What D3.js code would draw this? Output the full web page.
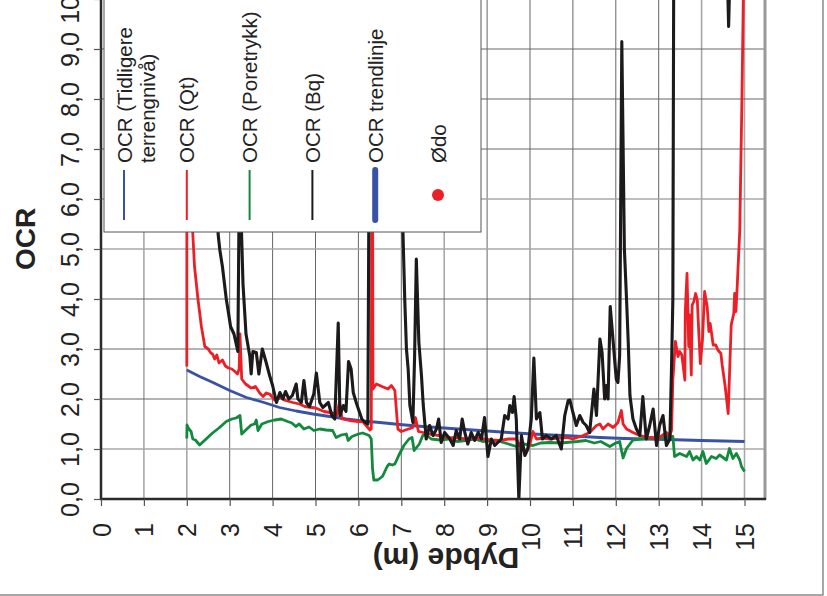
<!DOCTYPE html>
<html>
<head>
<meta charset="utf-8">
<script src="https://cdn.jsdelivr.net/npm/d3@7"></script>
<style>
  body { margin: 0; background: #fff; }
  text { font-family: "Liberation Sans", Arial, sans-serif; fill: #222; }
</style>
</head>
<body>
<script>

// depth (m) and OCR pairs
const blueSeries = [[2.0,2.58],[2.3,2.45],[2.61,2.33],[3.0,2.17],[3.39,2.03],[3.8,1.93],[4.16,1.83],[4.55,1.76],[4.94,1.7],[5.33,1.65],[5.72,1.6],[6.1,1.56],[6.5,1.53],[6.96,1.49],[7.5,1.45],[8.0,1.42],[8.5,1.39],[9.0,1.36],[9.5,1.33],[10.07,1.3],[10.5,1.28],[11.0,1.26],[11.63,1.23],[12.2,1.21],[12.7,1.2],[13.18,1.19],[13.6,1.18],[14.0,1.17],[14.5,1.16],[15.0,1.15]];

const qtSeries = [[2.0,2.65],[2.005,11],[2.1,8],[2.14,5.3],[2.18,4.65],[2.26,4.0],[2.34,3.45],[2.42,3.05],[2.5,3.0],[2.56,2.92],[2.6,2.9],[2.65,2.8],[2.7,2.88],[2.75,2.72],[2.83,2.78],[2.9,2.66],[2.97,2.62],[3.05,2.6],[3.12,2.55],[3.18,2.5],[3.22,2.6],[3.24,3.3],[3.28,2.4],[3.37,2.3],[3.45,2.25],[3.5,2.22],[3.6,2.25],[3.7,2.12],[3.78,2.05],[3.85,2.12],[3.93,2.1],[4.05,1.98],[4.2,2.03],[4.3,1.97],[4.47,1.93],[4.63,1.9],[4.75,1.85],[5.0,1.82],[5.2,1.75],[5.4,1.72],[5.5,1.68],[5.56,1.95],[5.62,1.6],[5.8,1.57],[6.0,1.55],[6.1,1.55],[6.2,1.45],[6.27,1.38],[6.3,1.4],[6.32,11],[6.34,2.2],[6.42,2.3],[6.55,2.25],[6.69,2.2],[6.77,2.27],[6.85,2.17],[6.92,1.4],[7.0,1.35],[7.1,1.38],[7.27,1.43],[7.33,1.63],[7.4,1.35],[7.51,1.33],[7.66,1.3],[7.8,1.28],[8.0,1.25],[8.13,1.23],[8.3,1.22],[8.52,1.2],[8.7,1.22],[8.9,1.2],[9.1,1.18],[9.29,1.17],[9.5,1.2],[9.68,1.2],[9.76,1.07],[9.88,0.93],[9.99,1.07],[10.07,1.35],[10.15,1.2],[10.3,1.22],[10.46,1.2],[10.65,1.22],[10.85,1.23],[11.0,1.2],[11.24,1.27],[11.39,1.33],[11.55,1.47],[11.63,1.5],[11.7,1.4],[11.82,1.5],[11.94,1.43],[12.05,1.53],[12.13,1.77],[12.17,1.5],[12.25,1.4],[12.4,1.33],[12.56,1.27],[12.79,1.23],[13.0,1.22],[13.18,1.33],[13.26,1.27],[13.3,1.38],[13.33,2.38],[13.39,3.15],[13.45,2.85],[13.49,2.95],[13.54,2.88],[13.61,2.38],[13.62,3.75],[13.66,4.51],[13.7,3.05],[13.72,3.68],[13.76,2.48],[13.78,3.88],[13.82,3.95],[13.86,4.11],[13.9,3.98],[13.93,3.41],[13.97,2.71],[14.02,3.18],[14.07,4.15],[14.13,3.85],[14.17,3.35],[14.2,3.51],[14.27,3.08],[14.33,3.08],[14.38,2.98],[14.45,2.91],[14.48,2.68],[14.55,2.25],[14.62,1.71],[14.69,3.48],[14.75,3.71],[14.77,4.11],[14.8,3.75],[14.83,4.25],[14.89,5.38],[14.94,8.0],[14.98,10.5]];

const poreSeries = [[2.0,1.21],[2.005,1.48],[2.05,1.4],[2.1,1.35],[2.14,1.2],[2.2,1.18],[2.3,1.08],[2.45,1.2],[2.6,1.32],[2.75,1.42],[2.92,1.55],[3.05,1.6],[3.15,1.62],[3.24,1.67],[3.28,1.3],[3.4,1.4],[3.5,1.48],[3.58,1.5],[3.62,1.58],[3.66,1.37],[3.75,1.5],[3.9,1.55],[4.05,1.58],[4.2,1.6],[4.35,1.55],[4.45,1.52],[4.54,1.45],[4.62,1.5],[4.73,1.4],[4.85,1.44],[4.96,1.37],[5.1,1.4],[5.25,1.38],[5.4,1.37],[5.48,1.23],[5.6,1.28],[5.72,1.3],[5.76,1.17],[5.85,1.25],[6.0,1.3],[6.1,1.32],[6.25,1.27],[6.3,1.2],[6.33,0.6],[6.36,0.38],[6.45,0.38],[6.56,0.45],[6.67,0.65],[6.72,0.7],[6.79,0.68],[6.85,0.7],[6.94,0.87],[7.06,1.07],[7.18,1.2],[7.25,1.23],[7.3,0.97],[7.42,1.1],[7.5,1.27],[7.58,1.28],[7.7,1.2],[7.9,1.18],[8.1,1.2],[8.3,1.15],[8.5,1.17],[8.7,1.2],[8.9,1.15],[9.1,1.17],[9.3,1.15],[9.5,1.1],[9.68,1.05],[9.85,1.1],[10.07,1.07],[10.25,1.12],[10.46,1.13],[10.7,1.12],[10.85,1.13],[11.1,1.15],[11.3,1.17],[11.5,1.12],[11.65,1.15],[11.86,1.05],[12.0,1.12],[12.09,1.15],[12.17,0.82],[12.25,1.01],[12.4,1.18],[12.6,1.2],[12.85,1.22],[13.0,1.2],[13.18,1.25],[13.33,1.25],[13.37,0.85],[13.49,0.91],[13.65,0.85],[13.72,0.95],[13.8,0.78],[13.88,0.85],[13.96,0.78],[14.03,0.95],[14.11,0.71],[14.23,0.85],[14.34,0.81],[14.42,0.88],[14.58,0.78],[14.65,1.01],[14.73,0.81],[14.81,0.91],[14.89,0.78],[14.93,0.65],[15.0,0.55]];

const bqSeries = [[2.68,10.5],[2.73,5.3],[2.77,4.98],[2.83,4.65],[2.92,4.0],[2.97,3.73],[3.02,3.45],[3.1,3.3],[3.19,2.95],[3.22,6.0],[3.24,8.0],[3.27,5.5],[3.31,4.3],[3.38,3.3],[3.47,2.85],[3.5,2.5],[3.54,2.95],[3.62,2.93],[3.68,2.5],[3.76,3.0],[3.85,2.73],[3.93,2.47],[4.0,2.27],[4.09,1.93],[4.17,2.13],[4.24,2.0],[4.3,2.15],[4.38,2.0],[4.46,2.07],[4.55,2.3],[4.59,2.0],[4.67,1.93],[4.73,2.37],[4.79,1.93],[4.86,1.85],[4.96,2.1],[5.02,2.52],[5.1,1.93],[5.17,1.83],[5.3,1.93],[5.38,1.67],[5.45,1.6],[5.53,3.52],[5.57,1.67],[5.65,1.87],[5.71,1.75],[5.77,2.75],[5.83,2.6],[5.88,2.13],[5.96,1.9],[6.0,1.8],[6.08,1.6],[6.16,1.53],[6.22,1.5],[6.27,10.5],[7.0,10.5],[7.04,5.3],[7.08,4.0],[7.12,3.0],[7.16,2.6],[7.2,1.87],[7.23,1.73],[7.27,1.53],[7.31,2.85],[7.35,4.8],[7.41,3.13],[7.47,2.47],[7.51,1.9],[7.58,1.2],[7.66,1.47],[7.74,1.27],[7.82,1.4],[7.87,1.6],[7.93,1.13],[8.01,1.33],[8.13,1.2],[8.21,1.07],[8.28,1.37],[8.36,1.2],[8.42,1.6],[8.48,1.33],[8.55,1.1],[8.63,1.33],[8.71,1.17],[8.79,1.33],[8.87,1.2],[8.94,1.63],[9.02,0.85],[9.1,1.2],[9.18,1.07],[9.25,1.13],[9.33,1.2],[9.41,1.67],[9.49,1.6],[9.53,1.87],[9.59,1.73],[9.63,2.05],[9.68,1.6],[9.74,0.0],[9.8,1.27],[9.88,0.87],[9.95,1.0],[10.03,1.6],[10.09,2.82],[10.15,1.6],[10.23,1.73],[10.29,1.2],[10.38,1.27],[10.5,1.2],[10.61,1.27],[10.73,1.0],[10.81,1.67],[10.89,1.97],[10.93,1.98],[11.0,1.73],[11.08,1.47],[11.16,1.67],[11.24,1.53],[11.31,1.47],[11.39,1.33],[11.49,2.2],[11.55,1.67],[11.63,3.2],[11.68,2.93],[11.74,2.0],[11.78,2.27],[11.82,2.0],[11.87,3.85],[11.94,3.13],[12.01,2.4],[12.05,2.33],[12.09,2.87],[12.14,9.15],[12.2,5.0],[12.25,4.0],[12.29,3.13],[12.33,2.07],[12.4,1.6],[12.48,1.4],[12.56,1.27],[12.63,2.05],[12.71,1.2],[12.79,1.47],[12.87,1.8],[12.95,1.07],[13.02,1.47],[13.1,1.67],[13.18,1.07],[13.26,1.2],[13.3,2.67],[13.33,4.0],[13.35,10.5],[14.6,10.5],[14.63,9.45],[14.66,10.5]];

const depthTicks = d3.range(0, 16);
const ocrTicks = d3.range(0, 11);

const legendItems = [
  { label: ["OCR (Tidligere", "terrengnivå)"], color: "#3a52a6", type: "line" },
  { label: ["OCR (Qt)"], color: "#ec1f27", type: "line" },
  { label: ["OCR (Poretrykk)"], color: "#12893c", type: "line" },
  { label: ["OCR (Bq)"], color: "#1c1a1a", type: "line" },
  { label: ["OCR trendlinje"], color: "#3a52a6", type: "thick" },
  { label: ["Ødo"], color: "#ec1f27", type: "dot" }
];

const series = [
  { data: blueSeries, color: "#3a52a6", width: 2.8 },
  { data: poreSeries, color: "#12893c", width: 2.8 },
  { data: qtSeries, color: "#ec1f27", width: 2.8 },
  { data: bqSeries, color: "#1c1a1a", width: 3.1 }
];

drawChart();

function drawChart() {
  const W = 827, H = 596;
  const plot = { left: 101, right: 765, top: -1, bottom: 499 };

  const svg = d3.select('body').append('svg')
    .attr('width', W)
    .attr('height', H);

  const xScale = d3.scaleLinear()
    .domain([0, 15])
    .range([plot.left, 744.5]);

  const yScale = d3.scaleLinear()
    .domain([0, 10])
    .range([plot.bottom, plot.top]);

  // outer frame of the figure (right and bottom edges)
  svg.append('path')
    .attr('d', `M823,0 V595 H0`)
    .attr('fill', 'none')
    .attr('stroke', '#8a8a8a')
    .attr('stroke-width', 1.5);

  // grid
  svg.append('g').selectAll('line')
    .data(depthTicks.filter(d => d > 0))
    .enter().append('line')
    .attr('x1', d => xScale(d)).attr('x2', d => xScale(d))
    .attr('y1', 0).attr('y2', plot.bottom)
    .attr('stroke', d => (d === 1 || d === 2 || d === 8 || d >= 14) ? '#a8a8a8' : '#666')
    .attr('stroke-width', d => (d === 1 || d === 2 || d === 8 || d >= 14) ? 1.6 : 1);

  svg.append('g').selectAll('line')
    .data(ocrTicks.filter(d => d > 0))
    .enter().append('line')
    .attr('x1', plot.left).attr('x2', plot.right)
    .attr('y1', d => yScale(d)).attr('y2', d => yScale(d))
    .attr('stroke', d => (d === 1 || d === 5 || d === 6) ? '#a8a8a8' : '#666')
    .attr('stroke-width', d => (d === 1 || d === 5 || d === 6) ? 1.6 : 1);

  // right border of the plot
  svg.append('line')
    .attr('x1', plot.right).attr('x2', plot.right)
    .attr('y1', 0).attr('y2', plot.bottom + 1)
    .attr('stroke', '#999').attr('stroke-width', 3);

  // data lines, clipped to the plot
  svg.append('clipPath').attr('id', 'plotclip')
    .append('rect')
    .attr('x', plot.left).attr('y', -20)
    .attr('width', plot.right - plot.left).attr('height', plot.bottom + 20);

  const line = d3.line()
    .x(d => xScale(d[0]))
    .y(d => yScale(d[1]));

  svg.append('g')
    .attr('clip-path', 'url(#plotclip)')
    .selectAll('path')
    .data(series)
    .enter().append('path')
    .attr('d', d => line(d.data))
    .attr('fill', 'none')
    .attr('stroke', d => d.color)
    .attr('stroke-width', d => d.width)
    .attr('stroke-linejoin', 'round');

  // axes
  const leftAxis = d3.axisLeft(yScale)
    .tickValues(ocrTicks)
    .tickSize(7).tickSizeOuter(0)
    .tickFormat(d => d3.format('.1f')(d).replace('.', ','));

  const bottomAxis = d3.axisBottom(xScale)
    .tickValues(depthTicks)
    .tickSize(7).tickSizeOuter(0)
    .tickFormat(d3.format('d'));

  const yAxisGroup = svg.append('g')
    .attr('transform', `translate(${plot.left},0)`)
    .call(leftAxis);

  yAxisGroup.select('.domain').attr('stroke', '#2a2a2a').attr('stroke-width', 2.5)
    .attr('d', `M0,0 V${plot.bottom}`);
  yAxisGroup.selectAll('.tick line').attr('stroke', '#555').attr('stroke-width', 1.2);
  yAxisGroup.selectAll('.tick text')
    .attr('x', null).attr('dy', null)
    .attr('transform', 'translate(-22,0) rotate(-90)')
    .attr('text-anchor', 'middle')
    .attr('font-size', 25)
    .attr('fill', '#222');

  const xAxisGroup = svg.append('g')
    .attr('transform', `translate(0,${plot.bottom})`)
    .call(bottomAxis);

  xAxisGroup.select('.domain').attr('stroke', '#2a2a2a').attr('stroke-width', 2.5)
    .attr('d', `M${plot.left - 1},0 H${plot.right + 1}`);
  xAxisGroup.selectAll('.tick line').attr('stroke', '#555').attr('stroke-width', 1.2);
  xAxisGroup.selectAll('.tick text')
    .attr('y', null).attr('dy', '0.36em')
    .attr('transform', 'translate(0,24) rotate(-90)')
    .attr('text-anchor', 'end')
    .attr('font-size', 25)
    .attr('fill', '#222');

  svg.selectAll('.tick text').style('font-family', '"Liberation Sans", Arial, sans-serif');

  // axis titles
  svg.append('text')
    .attr('transform', 'translate(35,239) rotate(-90)')
    .attr('text-anchor', 'middle')
    .attr('font-size', 28)
    .attr('font-weight', 'bold')
    .text('OCR');

  svg.append('text')
    .attr('transform', 'translate(446,548) rotate(180)')
    .attr('text-anchor', 'middle')
    .attr('font-size', 30)
    .attr('font-weight', 'bold')
    .text('Dybde (m)');

  // legend
  const legend = svg.append('g');
  legend.append('rect')
    .attr('x', 104).attr('y', -5)
    .attr('width', 377).attr('height', 237)
    .attr('fill', '#fff')
    .attr('stroke', '#555').attr('stroke-width', 1);

  const lx = d3.scalePoint()
    .domain(legendItems.map((d, i) => i))
    .range([124, 438]);

  const item = legend.selectAll('g.item')
    .data(legendItems)
    .enter().append('g')
    .attr('class', 'item')
    .attr('transform', (d, i) => `translate(${lx(i)},0)`);

  item.filter(d => d.type !== 'dot').append('line')
    .attr('x1', 0).attr('x2', 0)
    .attr('y1', 170).attr('y2', 220)
    .attr('stroke', d => d.color)
    .attr('stroke-width', d => d.type === 'thick' ? 6 : 2)
    .attr('stroke-linecap', d => d.type === 'thick' ? 'round' : 'butt');

  item.filter(d => d.type === 'dot').append('circle')
    .attr('cx', 0).attr('cy', 195).attr('r', 6)
    .attr('fill', d => d.color);

  item.each(function(d) {
    const g = d3.select(this);
    d.label.forEach((t, j) => {
      g.append('text')
        .attr('transform', `translate(${7.5 + j * 23},163) rotate(-90)`)
        .attr('font-size', 20.5)
        .text(t);
    });
  });
}

</script>
</body>
</html>
